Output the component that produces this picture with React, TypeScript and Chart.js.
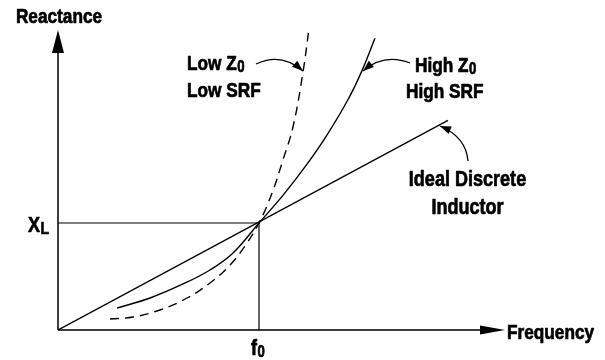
import React, { useEffect, useRef } from "react";
import { Chart, registerables } from "chart.js";

Chart.register(...registerables);

// Data (x in units of f0, y in units of XL)
const idealX = [0, 1.94];
const idealY = [0, 1.96];

const highZX = [0.294, 0.458, 0.622, 0.756, 0.871, 1.0, 1.119, 1.239, 1.338, 1.443, 1.512, 1.577];
const highZY = [0.206, 0.299, 0.43, 0.561, 0.72, 1.0, 1.258, 1.55, 1.821, 2.154, 2.422, 2.726];

const lowZX = [0.259, 0.373, 0.507, 0.642, 0.756, 0.856, 0.94, 1.0, 1.065, 1.119, 1.169, 1.219, 1.249];
const lowZY = [0.103, 0.121, 0.187, 0.299, 0.439, 0.607, 0.813, 1.0, 1.28, 1.589, 1.897, 2.411, 2.822];

const guideX = [0, 1, 1];
const guideY = [1, 1, 0];

const xMax = 2.7214;
const yMax = 3.0841;
const xAxisEnd = 2.224;
const yAxisEnd = 2.804;

const FONT = '"Liberation Sans", Arial, sans-serif';
const SX = 0.82;

const toPts = (xs: number[], ys: number[]) => xs.map((x, i) => ({ x, y: ys[i] }));

function arrowHead(ctx: CanvasRenderingContext2D, fx: number, fy: number, tx: number, ty: number, len: number, half: number) {
  const a = Math.atan2(ty - fy, tx - fx);
  const bx = tx - len * Math.cos(a);
  const by = ty - len * Math.sin(a);
  const px = -Math.sin(a) * half;
  const py = Math.cos(a) * half;
  ctx.beginPath();
  ctx.moveTo(tx, ty);
  ctx.lineTo(bx + px, by + py);
  ctx.lineTo(bx - px, by - py);
  ctx.closePath();
  ctx.fill();
}

function curvedArrow(ctx: CanvasRenderingContext2D, sx: number, sy: number, cx: number, cy: number, tx: number, ty: number) {
  ctx.beginPath();
  ctx.moveTo(sx, sy);
  ctx.quadraticCurveTo(cx, cy, tx, ty);
  ctx.stroke();
  arrowHead(ctx, cx, cy, tx, ty, 11, 4);
}

function measure(ctx: CanvasRenderingContext2D, t: string, size: number) {
  ctx.font = `bold ${size}px ${FONT}`;
  return ctx.measureText(t).width * SX;
}

function narrow(ctx: CanvasRenderingContext2D, t: string, x: number, y: number, size: number) {
  ctx.save();
  ctx.font = `bold ${size}px ${FONT}`;
  ctx.textAlign = "left";
  ctx.translate(x, y);
  ctx.scale(SX, 1);
  ctx.lineWidth = 0.7;
  ctx.lineJoin = "round";
  ctx.fillText(t, 0, 0);
  ctx.strokeText(t, 0, 0);
  ctx.restore();
}

function label(ctx: CanvasRenderingContext2D, main: string, sub: string, x: number, y: number, size: number, subSize: number, align: "left" | "center") {
  const w1 = measure(ctx, main, size);
  const w2 = sub ? measure(ctx, sub, subSize) : 0;
  const start = align === "center" ? x - (w1 + w2) / 2 : x;
  narrow(ctx, main, start, y, size);
  if (sub) narrow(ctx, sub, start + w1 + 0.5, y + 1.5, subSize);
}

const decorPlugin = {
  id: "decor",
  afterDatasetsDraw(chart: any) {
    const ctx: CanvasRenderingContext2D = chart.ctx;
    const xs = chart.scales.x;
    const ys = chart.scales.y;
    const x0 = xs.getPixelForValue(0);
    const y0 = ys.getPixelForValue(0);
    const xEnd = xs.getPixelForValue(xAxisEnd);
    const yEnd = ys.getPixelForValue(yAxisEnd);
    ctx.save();
    ctx.strokeStyle = "#000";
    ctx.fillStyle = "#000";
    ctx.lineWidth = 1.5;
    ctx.beginPath();
    ctx.moveTo(x0, y0);
    ctx.lineTo(x0, yEnd + 20);
    ctx.moveTo(x0, y0);
    ctx.lineTo(xEnd - 20, y0);
    ctx.stroke();
    arrowHead(ctx, x0, y0, x0, yEnd, 23, 6);
    arrowHead(ctx, x0, y0, xEnd, y0, 25, 4.5);

    ctx.lineWidth = 1.3;
    curvedArrow(ctx, 256, 64, 281, 52, 303, 71);
    curvedArrow(ctx, 410, 63, 384, 53, 363, 71);
    curvedArrow(ctx, 468, 161, 466, 137, 440, 126);

    ctx.textBaseline = "alphabetic";
    label(ctx, "Reactance", "", 59, 23, 21, 0, "center");
    label(ctx, "Frequency", "", 507, 339, 21, 0, "left");
    label(ctx, "X", "L", 28, 232, 22, 17, "left");
    label(ctx, "f", "0", 251, 355, 22, 16, "left");
    label(ctx, "Low Z", "0", 187, 70, 21, 16, "left");
    label(ctx, "Low SRF", "", 187, 97, 21, 0, "left");
    label(ctx, "High Z", "0", 415, 72, 21, 16, "left");
    label(ctx, "High SRF", "", 406, 98, 21, 0, "left");
    label(ctx, "Ideal Discrete", "", 467.5, 186, 22, 0, "center");
    label(ctx, "Inductor", "", 467.5, 214, 22, 0, "center");
    ctx.restore();
  },
};

export default function App() {
  const ref = useRef<HTMLCanvasElement | null>(null);
  useEffect(() => {
    if (!ref.current) return;
    const chart = new Chart(ref.current, {
      type: "scatter",
      data: {
        datasets: [
          { label: "guide", data: toPts(guideX, guideY), showLine: true, borderColor: "#000", borderWidth: 1.2, pointRadius: 0, tension: 0 },
          { label: "Ideal Discrete Inductor", data: toPts(idealX, idealY), showLine: true, borderColor: "#000", borderWidth: 1.4, pointRadius: 0, tension: 0 },
          { label: "High Z0 High SRF", data: toPts(highZX, highZY), showLine: true, borderColor: "#000", borderWidth: 1.4, pointRadius: 0, tension: 0.4 },
          { label: "Low Z0 Low SRF", data: toPts(lowZX, lowZY), showLine: true, borderColor: "#000", borderWidth: 1.4, borderDash: [9, 6], pointRadius: 0, tension: 0.4 },
        ] as any,
      },
      options: {
        animation: false,
        responsive: false,
        layout: { padding: { left: 58, right: 0, top: 0, bottom: 30 } },
        plugins: { legend: { display: false }, tooltip: { enabled: false } },
        elements: { line: { borderCapStyle: "butt" } },
        scales: {
          x: { type: "linear", min: 0, max: xMax, display: false },
          y: { type: "linear", min: 0, max: yMax, display: false },
        },
      },
      plugins: [decorPlugin],
    });
    return () => chart.destroy();
  }, []);
  return (
    <div style={{ position: "absolute", left: 0, top: 0, width: 605, height: 360, background: "#fff" }}>
      <canvas ref={ref} width={605} height={360} style={{ display: "block" }} />
    </div>
  );
}
